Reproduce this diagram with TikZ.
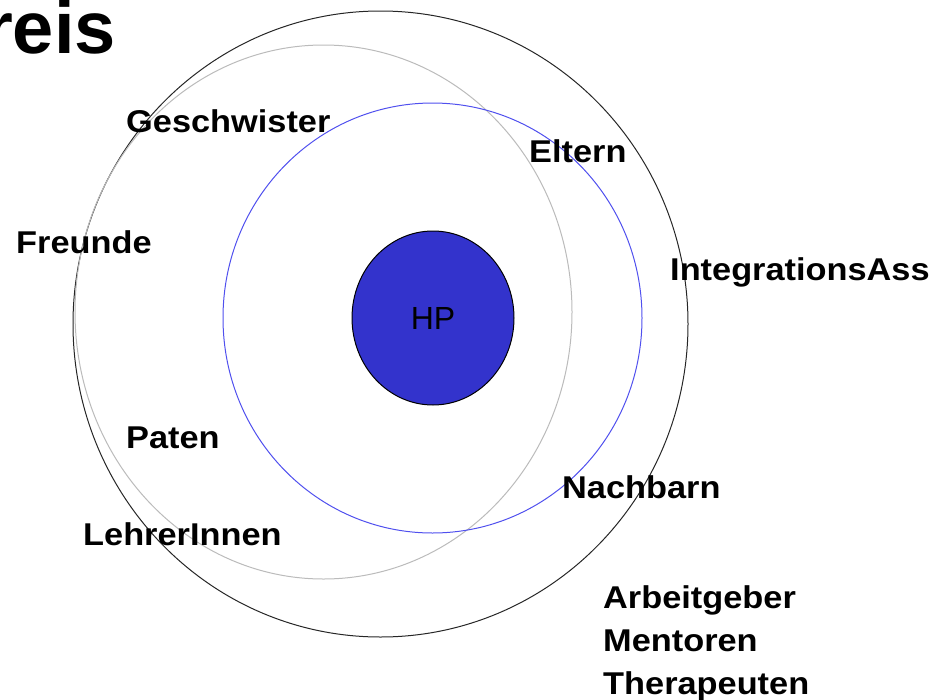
\documentclass[tikz,border=0pt]{standalone}
\usepackage{fontspec}
\setmainfont{Liberation Sans}
\newfontfamily\lblfont{Liberation Sans}[FakeStretch=1.09]
\usetikzlibrary{shapes.geometric}
\definecolor{hpblue}{HTML}{3333CC}
\definecolor{ringblue}{HTML}{5050EE}
\definecolor{ringgray}{HTML}{BBBBBB}
\tikzset{
  lbl/.style={anchor=base west, inner sep=0pt, font=\lblfont\bfseries\fontsize{31.5}{36}\selectfont},
  ring/.style={line width=1pt}
}
\begin{document}
\begin{tikzpicture}[x=1pt,y=-1pt]
\useasboundingbox (0,0) rectangle (940,699);
% rings
\draw[ring, black!85] (380.5,324) ellipse [x radius=307.5, y radius=313];
\draw[ring, ringgray] (323.5,312) ellipse [x radius=248.5, y radius=267];
\draw[ring, ringblue] (432.5,318) ellipse [x radius=209.5, y radius=215];
% HP
\node[draw=black, line width=1pt, fill=hpblue, ellipse, minimum width=162pt, minimum height=174pt, inner sep=0pt,
      font=\fontsize{32}{36}\selectfont] (hp) at (433,318) {HP};
% title
\node[anchor=base east, inner sep=0pt, font=\bfseries\fontsize{74}{80}\selectfont] (title) at (116,53) {reis};
% labels
\node[lbl] (geschwister) at (126,132) {Geschwister};
\node[lbl] (eltern) at (529,162) {Eltern};
\node[lbl] (freunde) at (16,253) {Freunde};
\node[lbl] (integ) at (670,280) {IntegrationsAss};
\node[lbl] (paten) at (126,448) {Paten};
\node[lbl] (nachbarn) at (562,498) {Nachbarn};
\node[lbl] (lehrer) at (83,545) {LehrerInnen};
\node[lbl] (arbeit) at (603,608) {Arbeitgeber};
\node[lbl] (mentoren) at (603,651) {Mentoren};
\node[lbl] (thera) at (603,694) {Therapeuten};
\end{tikzpicture}
\end{document}
